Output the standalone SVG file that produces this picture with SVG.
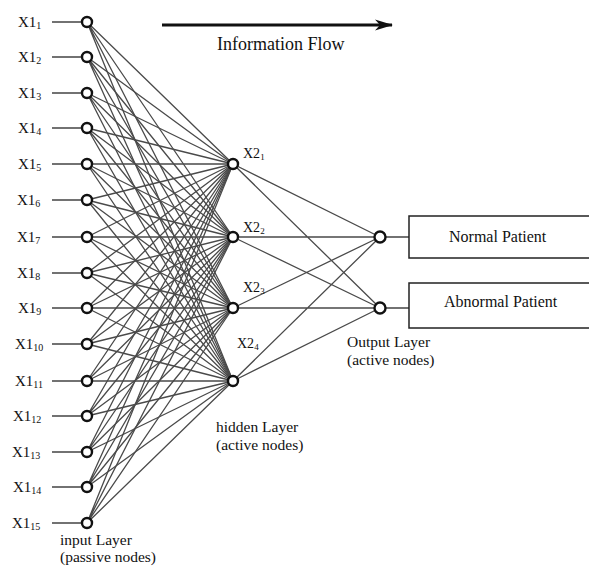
<svg xmlns="http://www.w3.org/2000/svg" width="589" height="566" viewBox="0 0 589 566">
<defs>
<style>
text{font-family:"Liberation Serif","Times New Roman",serif;fill:#111}
.lbl{font-size:15px}
.sub{font-size:10px}
.h{font-size:14px}
.hs{font-size:9px}
.t{font-size:15.5px}
.e{stroke:#4a4a4a;stroke-width:1.3;fill:none}
.s{stroke:#444;stroke-width:1.7}
.n{fill:#fff;stroke:#111;stroke-width:2.4}
.box{fill:#fff;stroke:#222;stroke-width:1.5}
</style>
<marker id="ah" viewBox="0 0 18 12" refX="17" refY="6" markerWidth="18" markerHeight="12" markerUnits="userSpaceOnUse" orient="auto"><path d="M0,0.5 L18,6 L0,11.5 L5,6 z" fill="#111"/></marker>
</defs>
<rect width="589" height="566" fill="#fff"/>
<g id="connectors">
<g class="e">
<path d="M87,22L233,164M87,22L233,237M87,22L233,308M87,22L233,381"/>
<path d="M87,57L233,164M87,57L233,237M87,57L233,308M87,57L233,381"/>
<path d="M87,93L233,164M87,93L233,237M87,93L233,308M87,93L233,381"/>
<path d="M87,128L233,164M87,128L233,237M87,128L233,308M87,128L233,381"/>
<path d="M87,164L233,164M87,164L233,237M87,164L233,308M87,164L233,381"/>
<path d="M87,200L233,164M87,200L233,237M87,200L233,308M87,200L233,381"/>
<path d="M87,237L233,164M87,237L233,237M87,237L233,308M87,237L233,381"/>
<path d="M87,273L233,164M87,273L233,237M87,273L233,308M87,273L233,381"/>
<path d="M87,308L233,164M87,308L233,237M87,308L233,308M87,308L233,381"/>
<path d="M87,344L233,164M87,344L233,237M87,344L233,308M87,344L233,381"/>
<path d="M87,381L233,164M87,381L233,237M87,381L233,308M87,381L233,381"/>
<path d="M87,416L233,164M87,416L233,237M87,416L233,308M87,416L233,381"/>
<path d="M87,452L233,164M87,452L233,237M87,452L233,308M87,452L233,381"/>
<path d="M87,487L233,164M87,487L233,237M87,487L233,308M87,487L233,381"/>
<path d="M87,523L233,164M87,523L233,237M87,523L233,308M87,523L233,381"/>
<path d="M233,164L380,237M233,164L380,308M233,237L380,237M233,237L380,308M233,308L380,237M233,308L380,308M233,381L380,237M233,381L380,308"/>
</g>
<g class="s">
<path d="M52,22H82M52,57H82M52,93H82M52,128H82M52,164H82M52,200H82M52,237H82M52,273H82M52,308H82M52,344H82M52,381H82M52,416H82M52,452H82M52,487H82M52,523H82"/>
<path d="M385,237H409M385,308H409"/>
</g>
<line x1="162" y1="25" x2="392" y2="25" stroke="#111" stroke-width="3.2" marker-end="url(#ah)"/>
</g>
<text x="217" y="50" style="font-size:18px">Information Flow</text>
<g id="input-nodes">
<g id="in1"><circle class="n" cx="87" cy="22" r="5"/><text class="lbl" x="18" y="27">X1<tspan class="sub" dy="2">1</tspan></text></g>
<g id="in2"><circle class="n" cx="87" cy="57" r="5"/><text class="lbl" x="18" y="62">X1<tspan class="sub" dy="2">2</tspan></text></g>
<g id="in3"><circle class="n" cx="87" cy="93" r="5"/><text class="lbl" x="18" y="98">X1<tspan class="sub" dy="2">3</tspan></text></g>
<g id="in4"><circle class="n" cx="87" cy="128" r="5"/><text class="lbl" x="18" y="133">X1<tspan class="sub" dy="2">4</tspan></text></g>
<g id="in5"><circle class="n" cx="87" cy="164" r="5"/><text class="lbl" x="18" y="169">X1<tspan class="sub" dy="2">5</tspan></text></g>
<g id="in6"><circle class="n" cx="87" cy="200" r="5"/><text class="lbl" x="17" y="205">X1<tspan class="sub" dy="2">6</tspan></text></g>
<g id="in7"><circle class="n" cx="87" cy="237" r="5"/><text class="lbl" x="17" y="242">X1<tspan class="sub" dy="2">7</tspan></text></g>
<g id="in8"><circle class="n" cx="87" cy="273" r="5"/><text class="lbl" x="17" y="278">X1<tspan class="sub" dy="2">8</tspan></text></g>
<g id="in9"><circle class="n" cx="87" cy="308" r="5"/><text class="lbl" x="18" y="313">X1<tspan class="sub" dy="2">9</tspan></text></g>
<g id="in10"><circle class="n" cx="87" cy="344" r="5"/><text class="lbl" x="15" y="349">X1<tspan class="sub" dy="2">10</tspan></text></g>
<g id="in11"><circle class="n" cx="87" cy="381" r="5"/><text class="lbl" x="15" y="386">X1<tspan class="sub" dy="2">11</tspan></text></g>
<g id="in12"><circle class="n" cx="87" cy="416" r="5"/><text class="lbl" x="13" y="421">X1<tspan class="sub" dy="2">12</tspan></text></g>
<g id="in13"><circle class="n" cx="87" cy="452" r="5"/><text class="lbl" x="12" y="457">X1<tspan class="sub" dy="2">13</tspan></text></g>
<g id="in14"><circle class="n" cx="87" cy="487" r="5"/><text class="lbl" x="13" y="492">X1<tspan class="sub" dy="2">14</tspan></text></g>
<g id="in15"><circle class="n" cx="87" cy="523" r="5"/><text class="lbl" x="12" y="528">X1<tspan class="sub" dy="2">15</tspan></text></g>
<text class="t" x="60" y="545">input Layer</text>
<text class="t" x="60" y="562">(passive nodes)</text>
</g>
<g id="hidden-nodes">
<g id="h1"><circle class="n" cx="233" cy="164" r="5"/><text class="h" x="243" y="158">X2<tspan class="hs" dy="2">1</tspan></text></g>
<g id="h2"><circle class="n" cx="233" cy="237" r="5"/><text class="h" x="243" y="232">X2<tspan class="hs" dy="2">2</tspan></text></g>
<g id="h3"><circle class="n" cx="233" cy="308" r="5"/><text class="h" x="243" y="292">X2<tspan class="hs" dy="2">3</tspan></text></g>
<g id="h4"><circle class="n" cx="233" cy="381" r="5"/><text class="h" x="237" y="348">X2<tspan class="hs" dy="2">4</tspan></text></g>
<text class="t" x="216" y="432">hidden Layer</text>
<text class="t" x="216" y="450">(active nodes)</text>
</g>
<g id="output-nodes">
<g id="o1"><circle class="n" cx="380" cy="237" r="5.5"/></g>
<g id="o2"><circle class="n" cx="380" cy="308" r="5.5"/></g>
<text class="t" x="347" y="347">Output Layer</text>
<text class="t" x="347" y="365">(active nodes)</text>
</g>
<g id="normal-patient"><rect class="box" x="409" y="216" width="190" height="42"/><text class="t" x="449" y="242" style="font-size:16px">Normal Patient</text></g>
<g id="abnormal-patient"><rect class="box" x="409" y="283" width="190" height="45"/><text class="t" x="444" y="307" style="font-size:16px">Abnormal Patient</text></g>
</svg>
